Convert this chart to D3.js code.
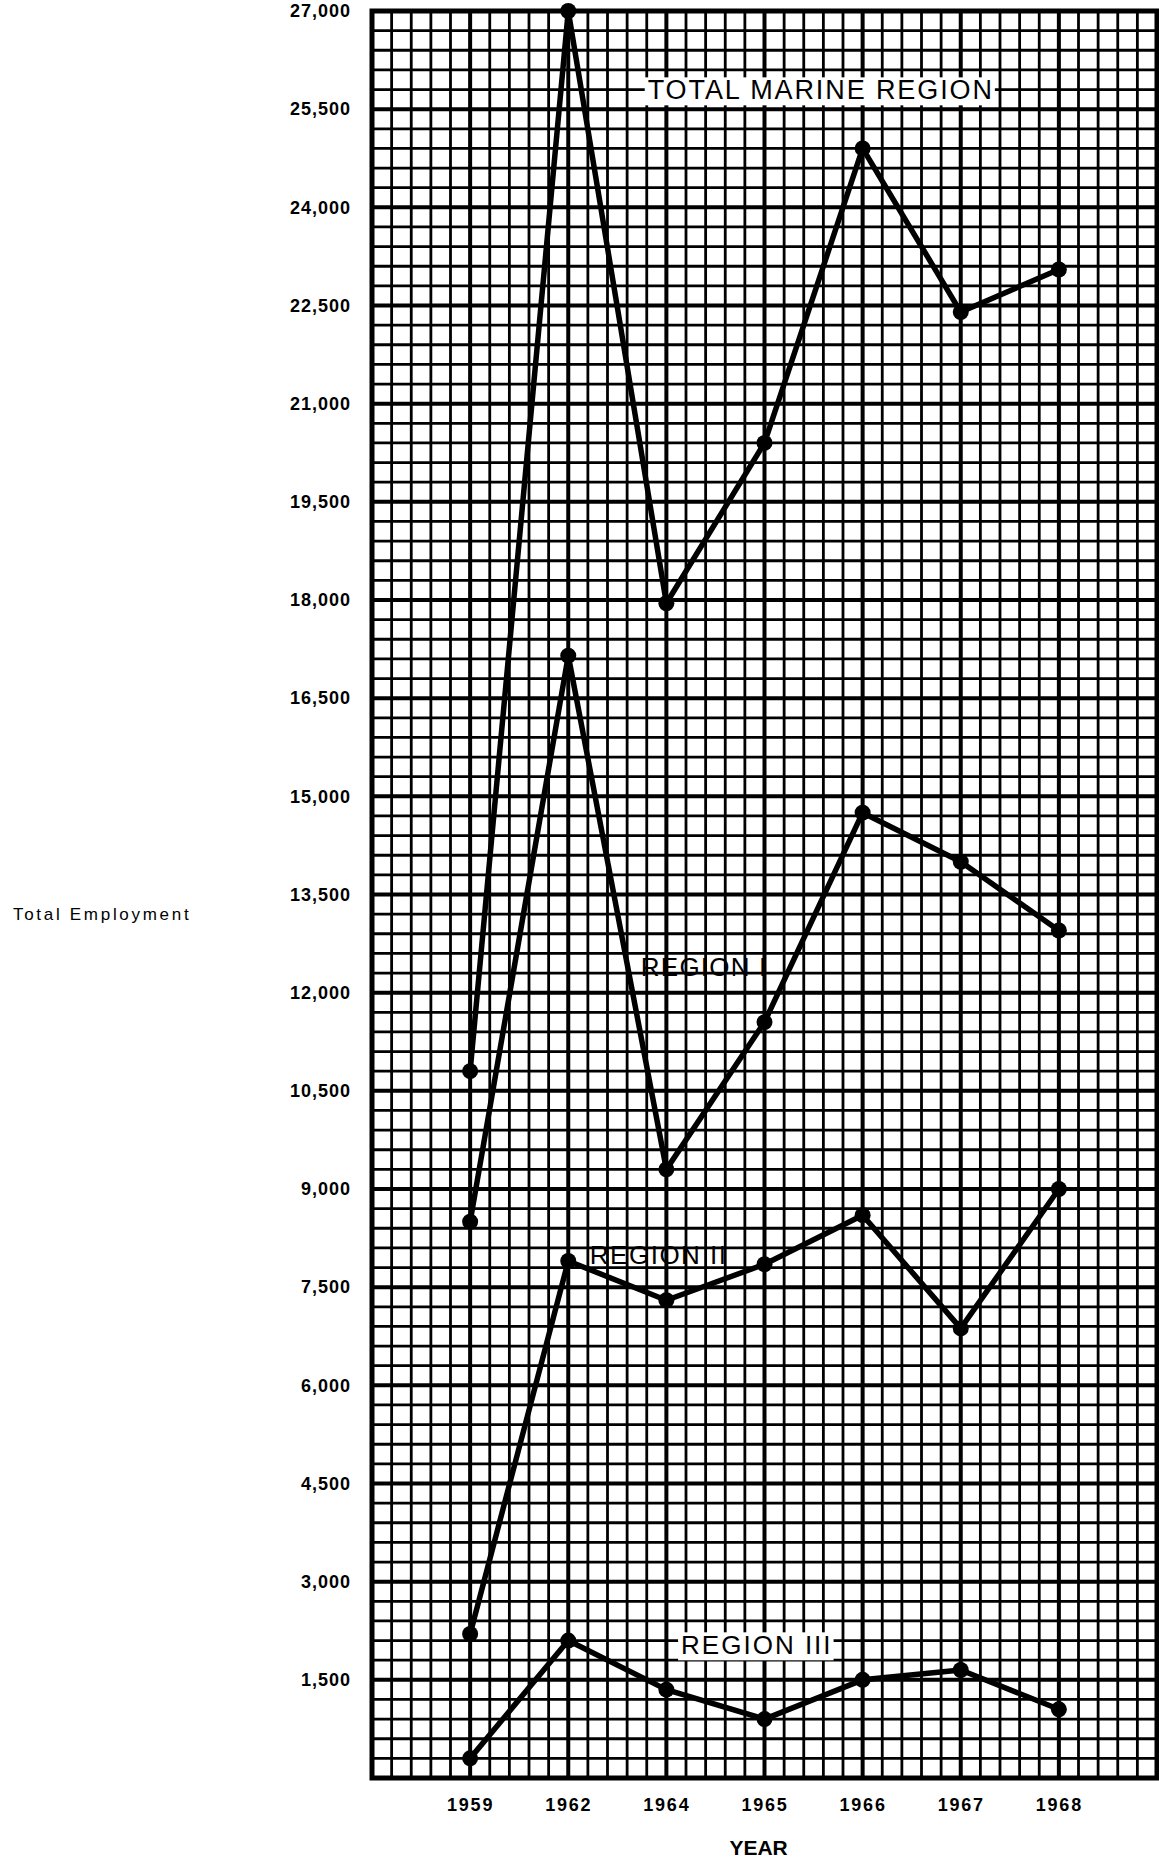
<!DOCTYPE html>
<meta charset="utf-8">
<style>

body {
  margin: 0;
  background: #fff;
}

svg {
  display: block;
}

.grid line {
  stroke: #000;
}

.axis text {
  fill: #000;
  font-family: "Liberation Sans", Arial, sans-serif;
  font-weight: bold;
  font-size: 18px;
}

.axis path {
  display: none;
}

.series {
  fill: none;
  stroke: #000;
  stroke-width: 5.5;
  stroke-linejoin: round;
}

.dot {
  fill: #000;
}

.label {
  fill: #000;
  font-family: "Liberation Sans", Arial, sans-serif;
}

</style>
<svg width="1159" height="1862"></svg>
<script src="https://cdn.jsdelivr.net/npm/d3@7/dist/d3.min.js"></script>
<script>

// values
var years = ["1959", "1962", "1964", "1965", "1966", "1967", "1968"];
var totalMarine = [10800, 27000, 17950, 20400, 24900, 22400, 23050];
var region1 = [8500, 17150, 9300, 11550, 14750, 14000, 12950];
var region2 = [2200, 7900, 7300, 7850, 8600, 6870, 9000];
var region3 = [300, 2100, 1350, 900, 1500, 1650, 1050];
var yTicks = d3.range(1500, 27001, 1500);

// series labels: grid column where the text starts, value at the baseline
var labels = [
  {text: "TOTAL MARINE REGION", col: 14.05, value: 25650, size: 27, spacing: 1.9, box: true},
  {text: "REGION I", col: 13.7, value: 12250, size: 26, spacing: 1.2, box: false},
  {text: "REGION II", col: 11.1, value: 7850, size: 26, spacing: 1.5, box: false},
  {text: "REGION III", col: 15.75, value: 1890, size: 26, spacing: 2, box: true}
];

var svg = d3.select("svg"),
    margin = {top: 11, right: 2, bottom: 84, left: 372},
    width = +svg.attr("width") - margin.left - margin.right,
    height = +svg.attr("height") - margin.top - margin.bottom;

var x = d3.scalePoint().domain(years).range([0, width]).padding(1),
    y = d3.scaleLinear().domain([0, 27000]).range([height, 0]),
    gx = d3.scaleLinear().domain([0, 40]).range([0, width]);

var g = svg.append("g")
    .attr("transform", "translate(" + margin.left + "," + margin.top + ")");

// graph paper
var grid = g.append("g").attr("class", "grid");

grid.selectAll(".v")
  .data(d3.range(0, 41))
  .enter().append("line")
    .attr("class", "v")
    .attr("x1", function(d) { return gx(d); })
    .attr("x2", function(d) { return gx(d); })
    .attr("y1", 0)
    .attr("y2", height)
    .attr("stroke-width", function(d) { return d % 5 === 0 ? 4 : 2.8; });

grid.selectAll(".h")
  .data(d3.range(0, 27001, 300))
  .enter().append("line")
    .attr("class", "h")
    .attr("x1", 0)
    .attr("x2", width)
    .attr("y1", function(d) { return y(d); })
    .attr("y2", function(d) { return y(d); })
    .attr("stroke-width", function(d) { return d % 1500 === 0 ? 4 : 2.8; });

g.append("rect")
    .attr("width", width)
    .attr("height", height)
    .attr("fill", "none")
    .attr("stroke", "#000")
    .attr("stroke-width", 5);

// axes
g.append("g")
    .attr("class", "axis axis--y")
    .call(d3.axisLeft(y).tickValues(yTicks).tickFormat(d3.format(",")).tickSize(0).tickPadding(21))
    .selectAll("text")
    .attr("letter-spacing", 1);

g.append("g")
    .attr("class", "axis axis--x")
    .attr("transform", "translate(0," + height + ")")
    .call(d3.axisBottom(x).tickSize(0).tickPadding(20))
    .selectAll("text")
    .attr("letter-spacing", 1.8);

g.append("text")
    .attr("class", "label")
    .attr("x", gx(19.7))
    .attr("y", height + 77)
    .attr("text-anchor", "middle")
    .attr("font-weight", "bold")
    .attr("font-size", 21)
    .text("YEAR");

svg.append("text")
    .attr("class", "label")
    .attr("x", 13)
    .attr("y", margin.top + y(13500) + 25)
    .attr("font-size", 17)
    .attr("letter-spacing", 2.7)
    .text("Total Employment");

// series labels
labels.forEach(function(d) {
  var t = g.append("text")
      .attr("class", "label")
      .attr("x", gx(d.col))
      .attr("y", y(d.value))
      .attr("font-size", d.size)
      .attr("letter-spacing", d.spacing)
      .text(d.text);
  if (d.box) {
    var b = t.node().getBBox();
    g.insert("rect", function() { return t.node(); })
        .attr("x", b.x - 3)
        .attr("y", b.y + 2)
        .attr("width", b.width + 4)
        .attr("height", b.height - 2)
        .attr("fill", "#fff");
  }
});

// lines and points
var line = d3.line()
    .x(function(d, i) { return x(years[i]); })
    .y(function(d) { return y(d); });

[totalMarine, region1, region2, region3].forEach(function(series) {
  g.append("path")
      .datum(series)
      .attr("class", "series")
      .attr("d", line);

  g.selectAll(null)
    .data(series)
    .enter().append("circle")
      .attr("class", "dot")
      .attr("cx", function(d, i) { return x(years[i]); })
      .attr("cy", function(d) { return y(d); })
      .attr("r", 8);
});

</script>
